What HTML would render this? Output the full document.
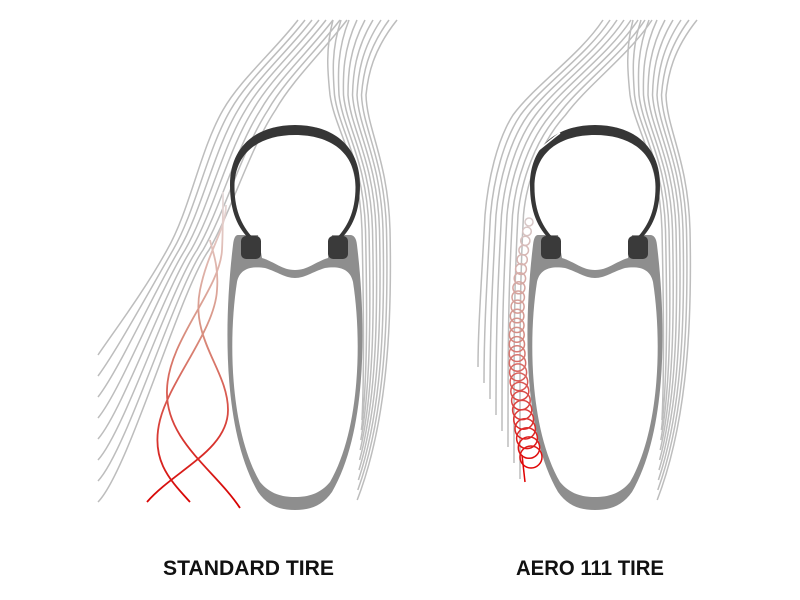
<!DOCTYPE html>
<html><head><meta charset="utf-8"><style>html,body{margin:0;padding:0;background:#fff}svg{display:block}</style></head>
<body>
<svg width="800" height="600" viewBox="0 0 800 600" xmlns="http://www.w3.org/2000/svg">
<defs>
<linearGradient id="rg" gradientUnits="userSpaceOnUse" x1="0" y1="190" x2="0" y2="505">
<stop offset="0" stop-color="#e6dede"/><stop offset="0.45" stop-color="#d89080"/><stop offset="1" stop-color="#d80000"/></linearGradient>
<linearGradient id="cg" gradientUnits="userSpaceOnUse" x1="0" y1="215" x2="0" y2="470">
<stop offset="0" stop-color="#d8cccc"/><stop offset="0.45" stop-color="#d49088"/><stop offset="1" stop-color="#e00000"/></linearGradient>
<g id="tire">
<path fill="#8e8e8e" d="M238,235 L258,235 L262,258 C275,262 282,270 295,270 C308,270 315,262 328,258 L332,235 L350,235 Q356,235 357,245 C366,320 368,430 332,492 C322,506 310,510 295,510 C280,510 268,506 258,492 C222,430 224,320 233,245 Q234,235 238,235 Z"/>
<path fill="#fff" d="M237,282 C240,268 252,266 265,268 C278,272 285,278 295,278 C305,278 312,272 325,268 C338,266 350,268 353,282 C362,340 360,430 330,482 C320,494 308,497 295,497 C282,497 270,494 260,482 C230,430 228,340 237,282 Z"/>
<path fill="#363636" d="M250,240 C238,228 230,212 230,185 C230,145 258,125 295,125 C332,125 360,145 360,185 C360,212 352,228 340,240 L335,240 C347,228 355.5,212 355.5,187 C355.5,152 330,135 295,135 C260,135 234.5,152 234.5,187 C234.5,212 243,228 255,240 Z"/>
<rect x="241" y="236" width="20" height="23" rx="5" fill="#3a3a3a"/>
<rect x="328" y="236" width="20" height="23" rx="5" fill="#3a3a3a"/>
</g>
<g id="rgrp" fill="none" stroke="#bdbdbd" stroke-width="1.5">
<path d="M333,20 C325,50 328,75 330,95 C335,130 360,160 362,230 C364,320 364,380 362,420"/>
<path d="M341,20 C331,50 333,75 334.5,95 C339,130 363.5,160 365.5,230 C367.5,320 367,385 361.4,430"/>
<path d="M349,20 C337,50 338,75 339,95 C343,130 367,160 369,230 C371,320 370,390 360.8,440"/>
<path d="M357,20 C343,50 343,75 343.5,95 C347,130 370.5,160 372.5,230 C374.5,320 373,395 360.2,450"/>
<path d="M365,20 C349,50 348,75 348,95 C351,130 374,160 376,230 C378,320 376,400 359.6,460"/>
<path d="M373,20 C355,50 353,75 352.5,95 C355,130 377.5,160 379.5,230 C381.5,320 379,405 359,470"/>
<path d="M381,20 C361,50 358,75 357,95 C359,130 381,160 383,230 C385,320 382,410 358.4,480"/>
<path d="M389,20 C367,50 363,75 361.5,95 C363,130 384.5,160 386.5,230 C388.5,320 385,415 357.8,490"/>
<path d="M397,20 C373,50 368,75 366,95 C367,130 388,160 390,230 C392,320 388,420 357.2,500"/>
</g>
</defs>

<!-- left tire flow -->
<g fill="none" stroke="#bdbdbd" stroke-width="1.5">
<path d="M298,20 C275,50 240,80 223,110 C200,150 190,210 167,250 C145,290 115,330 98,355"/>
<path d="M305,20 C282,50 247.5,80 230.5,110 C207,150 196,210 173,250 C150,290 117,350 98,376"/>
<path d="M312,20 C289,50 255,80 238,110 C214,150 202,210 179,250 C155,290 119,370 98,397"/>
<path d="M319,20 C296,50 262.5,80 245.5,110 C221,150 208,210 185,250 C160,290 121,390 98,418"/>
<path d="M326,20 C303,50 270,80 253,110 C228,150 214,210 191,250 C165,290 123,410 98,439"/>
<path d="M333,20 C310,50 277.5,80 260.5,110 C235,150 220,210 197,250 C170,290 125,430 98,460"/>
<path d="M340,20 C317,50 285,80 268,110 C242,150 226,210 203,250 C175,290 127,450 98,481"/>
<path d="M347,20 C324,50 292.5,80 275.5,110 C249,150 232,210 209,250 C180,290 129,470 98,502"/>
</g>
<use href="#rgrp"/>
<use href="#tire"/>
<g fill="none" stroke="url(#rg)" stroke-width="1.8">
<path d="M147,502 C175,470 228,450 228,410 C228,370 190,340 200,290 C208,250 226,230 226,205"/>
<path d="M190,502 C170,480 150,460 160,420 C170,380 215,330 217,290 C219,265 212,250 210,240"/>
<path d="M240,508 C215,470 165,440 167,390 C168,340 220,290 222,250 C223,230 223,210 223,192"/>
</g>

<!-- right tire flow -->
<g fill="none" stroke="#bdbdbd" stroke-width="1.5">
<path d="M603,20 C580,55 535,85 513,115 C497,140 488,180 485,215 C481,290 478,330 478,367"/>
<path d="M610,20 C587,55 542.5,85 520.5,115 C503.5,140 493.5,180 490.5,215 C486.5,290 484,330 484,383"/>
<path d="M617,20 C594,55 550,85 528,115 C510,140 499,180 496,215 C492,290 490,330 490,399"/>
<path d="M624,20 C601,55 557.5,85 535.5,115 C516.5,140 504.5,180 501.5,215 C497.5,290 496,330 496,415"/>
<path d="M631,20 C608,55 565,85 543,115 C523,140 510,180 507,215 C503,290 502,330 502,431"/>
<path d="M638,20 C615,55 572.5,85 550.5,115 C529.5,140 515.5,180 512.5,215 C508.5,290 508,330 508,447"/>
<path d="M645,20 C622,55 580,85 558,115 C536,140 521,180 518,215 C514,290 514,330 514,463"/>
<path d="M652,20 C629,55 587.5,85 565.5,115 C542.5,140 526.5,180 523.5,215 C519.5,290 520,330 520,479"/>
</g>
<use href="#rgrp" transform="translate(300,0)"/>
<use href="#tire" transform="translate(300,0)"/>
<path d="M536,152 L556,136 L560,133" fill="none" stroke="#fff" stroke-width="1.5"/>
<g fill="none" stroke="url(#cg)" stroke-width="1.5">
<circle cx="529" cy="222" r="4"/><circle cx="527" cy="231.4" r="4.3"/><circle cx="525.3" cy="240.8" r="4.6"/>
<circle cx="523.7" cy="250.2" r="4.8"/><circle cx="522.2" cy="259.6" r="5.1"/><circle cx="521" cy="269" r="5.4"/>
<circle cx="519.9" cy="278.4" r="5.7"/><circle cx="518.9" cy="287.8" r="6"/><circle cx="518.2" cy="297.2" r="6.2"/>
<circle cx="517.6" cy="306.6" r="6.5"/><circle cx="517.1" cy="316" r="6.8"/><circle cx="516.9" cy="325.4" r="7.1"/>
<circle cx="516.8" cy="334.8" r="7.4"/><circle cx="516.9" cy="344.2" r="7.6"/><circle cx="517.1" cy="353.6" r="7.9"/>
<circle cx="517.5" cy="363" r="8.2"/><circle cx="518.1" cy="372.4" r="8.5"/><circle cx="518.9" cy="381.8" r="8.8"/>
<circle cx="519.8" cy="391.2" r="9"/><circle cx="520.9" cy="400.6" r="9.3"/><circle cx="522.2" cy="410" r="9.6"/>
<circle cx="523.6" cy="419.4" r="9.9"/><circle cx="525.2" cy="428.8" r="10.2"/><circle cx="527" cy="438.2" r="10.4"/>
<circle cx="529" cy="447.6" r="10.7"/><circle cx="531" cy="457" r="11"/>
<path d="M522,455 L525,482"/>
</g>

<g font-family="'Liberation Sans', Arial, sans-serif" font-weight="bold" font-size="21" fill="#111">
<text x="163" y="575" textLength="171" lengthAdjust="spacingAndGlyphs">STANDARD TIRE</text>
<text x="516" y="575" textLength="148" lengthAdjust="spacingAndGlyphs">AERO 111 TIRE</text>
</g>
</svg>
</body></html>
